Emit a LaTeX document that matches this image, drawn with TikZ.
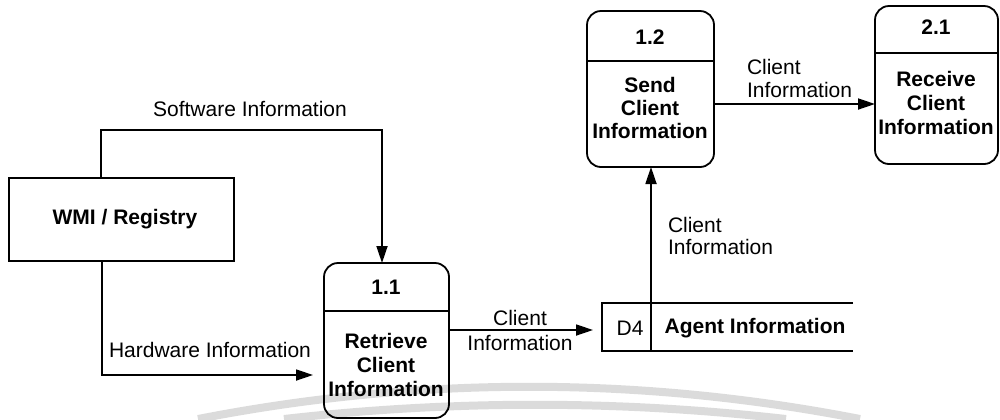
\documentclass[tikz,border=0pt]{standalone}
\usepackage{fontspec}
\setmainfont{Liberation Sans}
\usetikzlibrary{arrows.meta,calc}
\definecolor{wmgray}{gray}{0.86}
\begin{document}
\begin{tikzpicture}[x=0.5pt,y=-0.5pt,
  every node/.style={inner sep=0pt, outer sep=0pt, font=\fontsize{10.5}{12}\selectfont},
  proc/.style={draw, line width=0.9pt, rounded corners=7pt},
  ent/.style={draw, line width=0.9pt},
  btext/.style={font=\fontsize{10.5}{12}\selectfont\bfseries, align=center},
  lbl/.style={font=\fontsize{10.5}{12}\selectfont},
  flow/.style={line width=0.9pt, -{Triangle[length=8.5pt,width=5.5pt]}},
  line/.style={line width=0.9pt},
  wm/.style={draw=wmgray, line width=4pt}]
\useasboundingbox (0,0) rectangle (1000,419);

% faint watermark arcs
\draw[wm] (198,419) .. controls (418,376) and (640,376) .. (860,419);
\draw[wm] (284,419) .. controls (451,400) and (619,400) .. (786,419);

% external entity
\node[ent, minimum width=112.5pt, minimum height=41.5pt] (wmi) at (121.5,219.5) {};
\node[btext] (wmit) at (125,219) {WMI / Registry};

% process 1.1
\node[proc, minimum width=62.5pt, minimum height=77.5pt] (p11) at (386.5,340.5) {};
\draw[line] (p11.west |- 0,311) -- (p11.east |- 0,311);
\node[btext] (p11n) at (386,287) {1.1};
\node[btext] (p11t) at (386,365) {Retrieve\\Client\\Information};

% process 1.2
\node[proc, minimum width=63.5pt, minimum height=78pt] (p12) at (650.5,89) {};
\draw[line] (p12.west |- 0,61) -- (p12.east |- 0,61);
\node[btext] (p12n) at (650,37) {1.2};
\node[btext, font=\fontsize{10.5}{11.5}\selectfont\bfseries] (p12t) at (650,108) {Send\\Client\\Information};

% process 2.1
\node[proc, minimum width=61.5pt, minimum height=79pt] (p21) at (936.5,85) {};
\draw[line] (p21.west |- 0,53) -- (p21.east |- 0,53);
\node[btext] (p21n) at (936,27) {2.1};
\node[btext] (p21t) at (936,103) {Receive\\Client\\Information};

% data store D4
\node[minimum width=125.5pt, minimum height=24pt] (d4) at (727.5,327) {};
\draw[line] (d4.north east) -- (d4.north west) -- (d4.south west) -- (d4.south east);
\coordinate (d4div) at (651,303);
\draw[line] (d4div) -- (d4div |- d4.south);
\node[lbl] (d4id) at (630,328) {D4};
\node[btext] (d4t) at (755,328) {Agent Information};

% flows
\draw[flow] ($(wmi.north west)+(92,0)$) -- ++(0,-48) -| ($(p11.north)+(-4.5,0)$);
\node[lbl] (swl) at (250,109) {Software Information};

\draw[flow, shorten >=5.5pt] ($(wmi.south west)+(93,0)$) |- (p11.west |- 0,375);
\node[lbl] (hwl) at (210,350) {Hardware Information};

\draw[flow, shorten >=4.5pt] (p11.east |- 0,330) -- (d4.west |- 0,330);
\node[lbl, align=center, font=\fontsize{10.5}{12.5}\selectfont] (c1) at (520,330.5) {Client\\Information};

\draw[flow] (d4div) -- (d4div |- p12.south);
\node[lbl, align=left, anchor=west, font=\fontsize{10.5}{11}\selectfont] (c2) at (668,236) {Client\\Information};

\draw[flow] (p12.east |- 0,104) -- (p21.west |- 0,104);
\node[lbl, align=left, anchor=west, font=\fontsize{10.5}{11.5}\selectfont] (c3) at (747,78.5) {Client\\Information};
\end{tikzpicture}
\end{document}
